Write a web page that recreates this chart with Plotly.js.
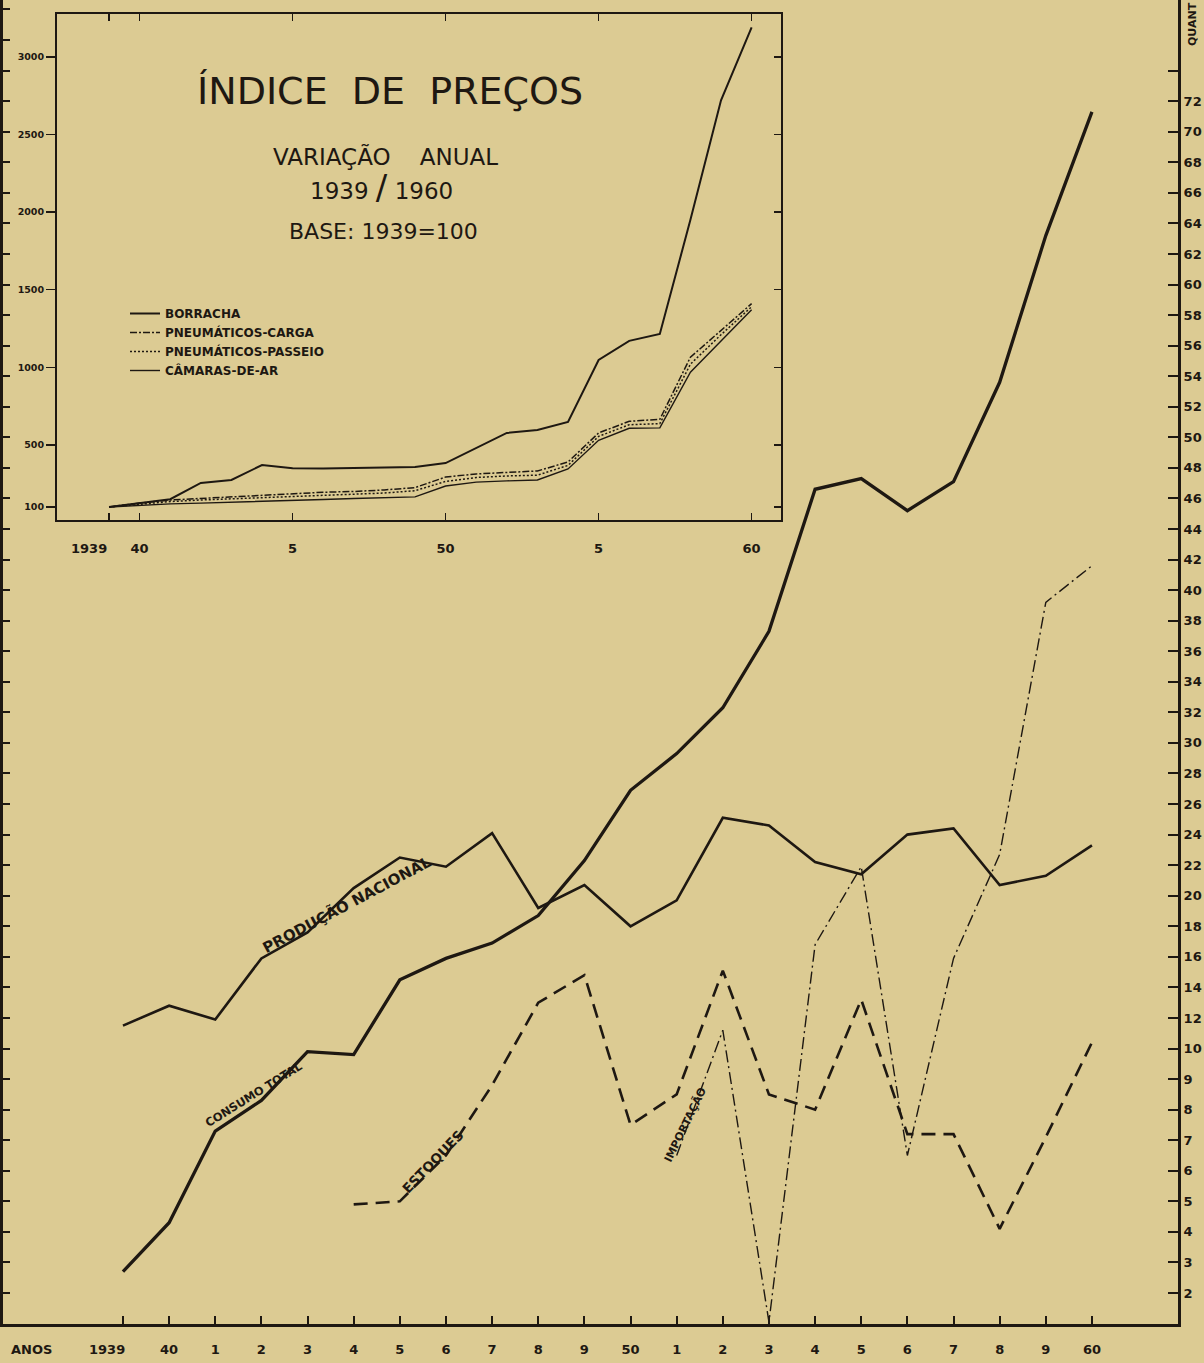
<!DOCTYPE html>
<html>
<head>
<meta charset="utf-8">
<script src="https://cdn.plot.ly/plotly-3.0.1.min.js"></script>
<style>
html,body{margin:0;padding:0;background:#dccb93;}
#chart{width:1204px;height:1363px;}
</style>
</head>
<body>
<div id="chart"></div>
<script>
// ---------------- DATA ----------------
// Main chart (quantities) – years 1939..1960
const mainYears = [1939,1940,1941,1942,1943,1944,1945,1946,1947,1948,1949,1950,1951,1952,1953,1954,1955,1956,1957,1958,1959,1960];
const mainYearLabels = ["1939\u00a0\u00a0\u00a0\u00a0\u00a0\u00a0\u00a0","40","1","2","3","4","5","6","7","8","9","50","1","2","3","4","5","6","7","8","9","60"];
const consumoTotal = [2.7,4.3,7.3,8.3,9.9,9.8,14.5,15.9,16.9,18.7,22.3,26.9,29.3,32.3,37.3,46.6,47.3,45.2,47.1,53.6,63.2,71.3];
const producaoNacional = [11.5,12.8,11.9,15.9,17.6,20.5,22.5,21.9,24.1,19.2,20.7,18.0,19.7,25.1,24.6,22.2,21.4,24.0,24.4,20.7,21.3,23.3];
const estoquesYears = [1944,1945,1946,1947,1948,1949,1950,1951,1952,1953,1954,1955,1956,1957,1958,1959,1960];
const estoques = [4.9,5.0,6.5,8.8,13.0,14.8,7.5,8.5,15.1,8.5,8.0,13.2,7.2,7.2,4.1,7.1,10.4];
const importacaoYears = [1951,1952,1953,1954,1955,1956,1957,1958,1959,1960];
const importacao = [6.5,11.2,1.05,16.8,21.9,6.5,15.9,22.7,39.2,41.6];
// right-axis tick labels (broken scale: step 1 up to 10, step 2 above)
const rightTickValues = [2,3,4,5,6,7,8,9,10,12,14,16,18,20,22,24,26,28,30,32,34,36,38,40,42,44,46,48,50,52,54,56,58,60,62,64,66,68,70,72,74];
const rightTickLabels = ["2","3","4","5","6","7","8","9","10","12","14","16","18","20","22","24","26","28","30","32","34","36","38","40","42","44","46","48","50","52","54","56","58","60","62","64","66","68","70","72",""];

// Inset: price index, base 1939 = 100
const indexYears = [1939,1940,1941,1942,1943,1944,1945,1946,1947,1948,1949,1950,1951,1952,1953,1954,1955,1956,1957,1958,1959,1960];
const borracha = [100,125,150,255,274,370,350,348,350,352,358,383,480,577,596,648,1047,1170,1215,1950,2720,3190];
const pneuCarga = [100,125,145,155,165,175,185,195,200,210,225,293,313,322,332,390,577,652,665,1065,1240,1410];
const pneuPasseio = [100,118,135,145,152,160,168,175,182,190,205,265,290,300,305,368,555,630,637,1020,1210,1390];
const camaras = [100,112,120,125,130,135,140,148,155,160,165,235,260,268,274,345,530,607,610,968,1170,1370];
const insetXTicks = [1939,1940,1945,1950,1955,1960];
const insetXLabels = ["","40","5","50","5","60"];
const insetFirstYearLabel = "1939";
const insetYTicks = [100,500,1000,1500,2000,2500,3000];

// ---------------- HELPERS ----------------
// broken scale of the original quantity axis
function scalePos(v){ return v <= 10 ? v : 10 + (v - 10) / 2; }
const W = 1204, H = 1363, ML = 3, MR = 26, MT = 0, MB = 39;
const PW = W - ML - MR, PH = H - MT - MB;
function P(px, py){ return {x: (px - ML) / PW, y: 1 - (py - MT) / PH}; }

const INK = '#1e1812';
const BG = '#dccb93';
const FONT = 'DejaVu Sans, Liberation Sans, sans-serif';

// ---------------- TRACES ----------------
const traces = [
  {x: mainYears, y: consumoTotal.map(scalePos), mode: 'lines', line: {color: INK, width: 3.3}, showlegend: false, name: 'Consumo total', hoverinfo: 'skip'},
  {x: mainYears, y: producaoNacional.map(scalePos), mode: 'lines', line: {color: INK, width: 2.6}, showlegend: false, name: 'Produção nacional', hoverinfo: 'skip'},
  {x: estoquesYears, y: estoques.map(scalePos), mode: 'lines', line: {color: INK, width: 2.6, dash: '14px,8px'}, showlegend: false, name: 'Estoques', hoverinfo: 'skip'},
  {x: importacaoYears, y: importacao.map(scalePos), mode: 'lines', line: {color: INK, width: 1.4, dash: '12px,4px,2px,4px'}, showlegend: false, name: 'Importação', hoverinfo: 'skip'},
  {x: [], y: [], xaxis: 'x', yaxis: 'y4', showlegend: false, hoverinfo: 'skip'},
  // inset
  {x: indexYears, y: borracha, xaxis: 'x2', yaxis: 'y2', mode: 'lines', line: {color: INK, width: 2}, name: 'BORRACHA'},
  {x: indexYears, y: pneuCarga, xaxis: 'x2', yaxis: 'y2', mode: 'lines', line: {color: INK, width: 1.5, dash: '7px,2px,2px,2px'}, name: 'PNEUMÁTICOS-CARGA'},
  {x: indexYears, y: pneuPasseio, xaxis: 'x2', yaxis: 'y2', mode: 'lines', line: {color: INK, width: 1.5, dash: '2px,2px'}, name: 'PNEUMÁTICOS-PASSEIO'},
  {x: indexYears, y: camaras, xaxis: 'x2', yaxis: 'y2', mode: 'lines', line: {color: INK, width: 1.4}, name: 'CÂMARAS-DE-AR'},
  {x: [], y: [], xaxis: 'x2', yaxis: 'y3', showlegend: false, hoverinfo: 'skip'}
];

const insetL = P(57, 0).x, insetR = P(781, 0).x, insetB = P(0, 520).y, insetT = P(0, 14).y;
const posTicks = rightTickValues.map(scalePos);
const leftTicks = [];
for (let i = 1; i <= 44; i++) leftTicks.push(i);

function ann(px, py, text, size, extra){
  const p = P(px, py);
  return Object.assign({xref: 'paper', yref: 'paper', x: p.x, y: p.y, text: text, showarrow: false,
    font: {family: FONT, size: size, color: INK}, xanchor: 'center', yanchor: 'middle'}, extra || {});
}
function dann(year, value, text, angle, size){
  return {xref: 'x', yref: 'y', x: year, y: scalePos(value), text: text, showarrow: false, textangle: angle,
    font: {family: FONT, size: size, color: INK, weight: 'bold'}, xanchor: 'center', yanchor: 'middle'};
}

const layout = {
  width: W, height: H,
  margin: {l: ML, r: MR, t: MT, b: MB, pad: 0},
  paper_bgcolor: BG, plot_bgcolor: BG,
  showlegend: true,
  legend: {x: P(125, 0).x, y: P(0, 299).y, xanchor: 'left', yanchor: 'top', bgcolor: 'rgba(0,0,0,0)',
    font: {family: FONT, size: 12, color: INK, weight: 'bold'}, itemwidth: 30, tracegroupgap: 0},
  xaxis: {range: [1936.40, 1961.865], tickvals: mainYears, ticktext: mainYearLabels, tickangle: 0, ticks: 'inside', ticklen: 8, tickwidth: 2,
    tickcolor: INK, showline: true, linecolor: INK, linewidth: 3, showgrid: false, zeroline: false, ticklabelstandoff: 11,
    tickfont: {family: FONT, size: 13, color: INK, weight: 'bold'}, anchor: 'y'},
  yaxis: {range: [0.986, 44.31], side: 'right', tickvals: posTicks, ticktext: rightTickLabels, ticks: 'inside', ticklen: 10, tickwidth: 2,
    tickcolor: INK, showline: true, linecolor: INK, linewidth: 3, showgrid: false, zeroline: false,
    tickfont: {family: FONT, size: 13, color: INK, weight: 'bold'}, anchor: 'x'},
  yaxis4: {range: [0.986, 44.31], overlaying: 'y', side: 'left', tickvals: leftTicks, ticks: 'inside', ticklen: 7, tickwidth: 2,
    tickcolor: INK, showticklabels: false, showline: true, linecolor: INK, linewidth: 6, showgrid: false, zeroline: false, anchor: 'x'},
  xaxis2: {domain: [insetL, insetR], range: [1937.30, 1960.96], anchor: 'y2', tickvals: insetXTicks, ticktext: insetXLabels, tickangle: 0,
    ticks: 'inside', ticklen: 7, tickwidth: 1.5, tickcolor: INK, mirror: 'ticks', showline: true, linecolor: INK, linewidth: 2,
    showgrid: false, zeroline: false, ticklabelstandoff: 15, tickfont: {family: FONT, size: 13, color: INK, weight: 'bold'}},
  yaxis2: {domain: [insetB, insetT], range: [16.2, 3276], anchor: 'x2', tickvals: insetYTicks, ticks: 'outside', ticklen: 9, tickwidth: 1.5,
    tickcolor: INK, showline: true, linecolor: INK, linewidth: 2, showgrid: false, zeroline: false,
    tickfont: {family: FONT, size: 9.5, color: INK, weight: 'bold'}},
  yaxis3: {domain: [insetB, insetT], range: [16.2, 3276], anchor: 'x2', overlaying: 'y2', side: 'right', tickvals: insetYTicks,
    ticks: 'inside', ticklen: 7, tickwidth: 1.5, tickcolor: INK, showticklabels: false, showline: true, linecolor: INK, linewidth: 2,
    showgrid: false, zeroline: false},
  annotations: [
    ann(390, 91, 'ÍNDICE  DE  PREÇOS', 38),
    ann(385, 156, 'VARIAÇÃO    ANUAL', 23),
    ann(381, 187, '1939 <span style="font-size:34px">/</span> 1960', 23),
    ann(383, 232, 'BASE: 1939=100', 22),
    ann(89, 548, insetFirstYearLabel, 13, {font: {family: FONT, size: 13, color: INK, weight: 'bold'}}),
    ann(31, 1350, 'ANOS', 13, {font: {family: FONT, size: 13, color: INK, weight: 'bold'}}),
    ann(1193, 24, 'QUANT', 11, {textangle: -90, font: {family: FONT, size: 11, color: INK, weight: 'bold'}}),
    dann(1943.85, 19.4, 'PRODUÇÃO NACIONAL', -28, 15),
    dann(1941.85, 8.5, 'CONSUMO TOTAL', -32, 11.5),
    dann(1945.70, 6.3, 'ESTOQUES', -46, 13.5),
    dann(1951.20, 7.5, 'IMPORTAÇÃO', -64, 11)
  ]
};

Plotly.newPlot('chart', traces, layout, {staticPlot: true, displayModeBar: false});
</script>
</body>
</html>
